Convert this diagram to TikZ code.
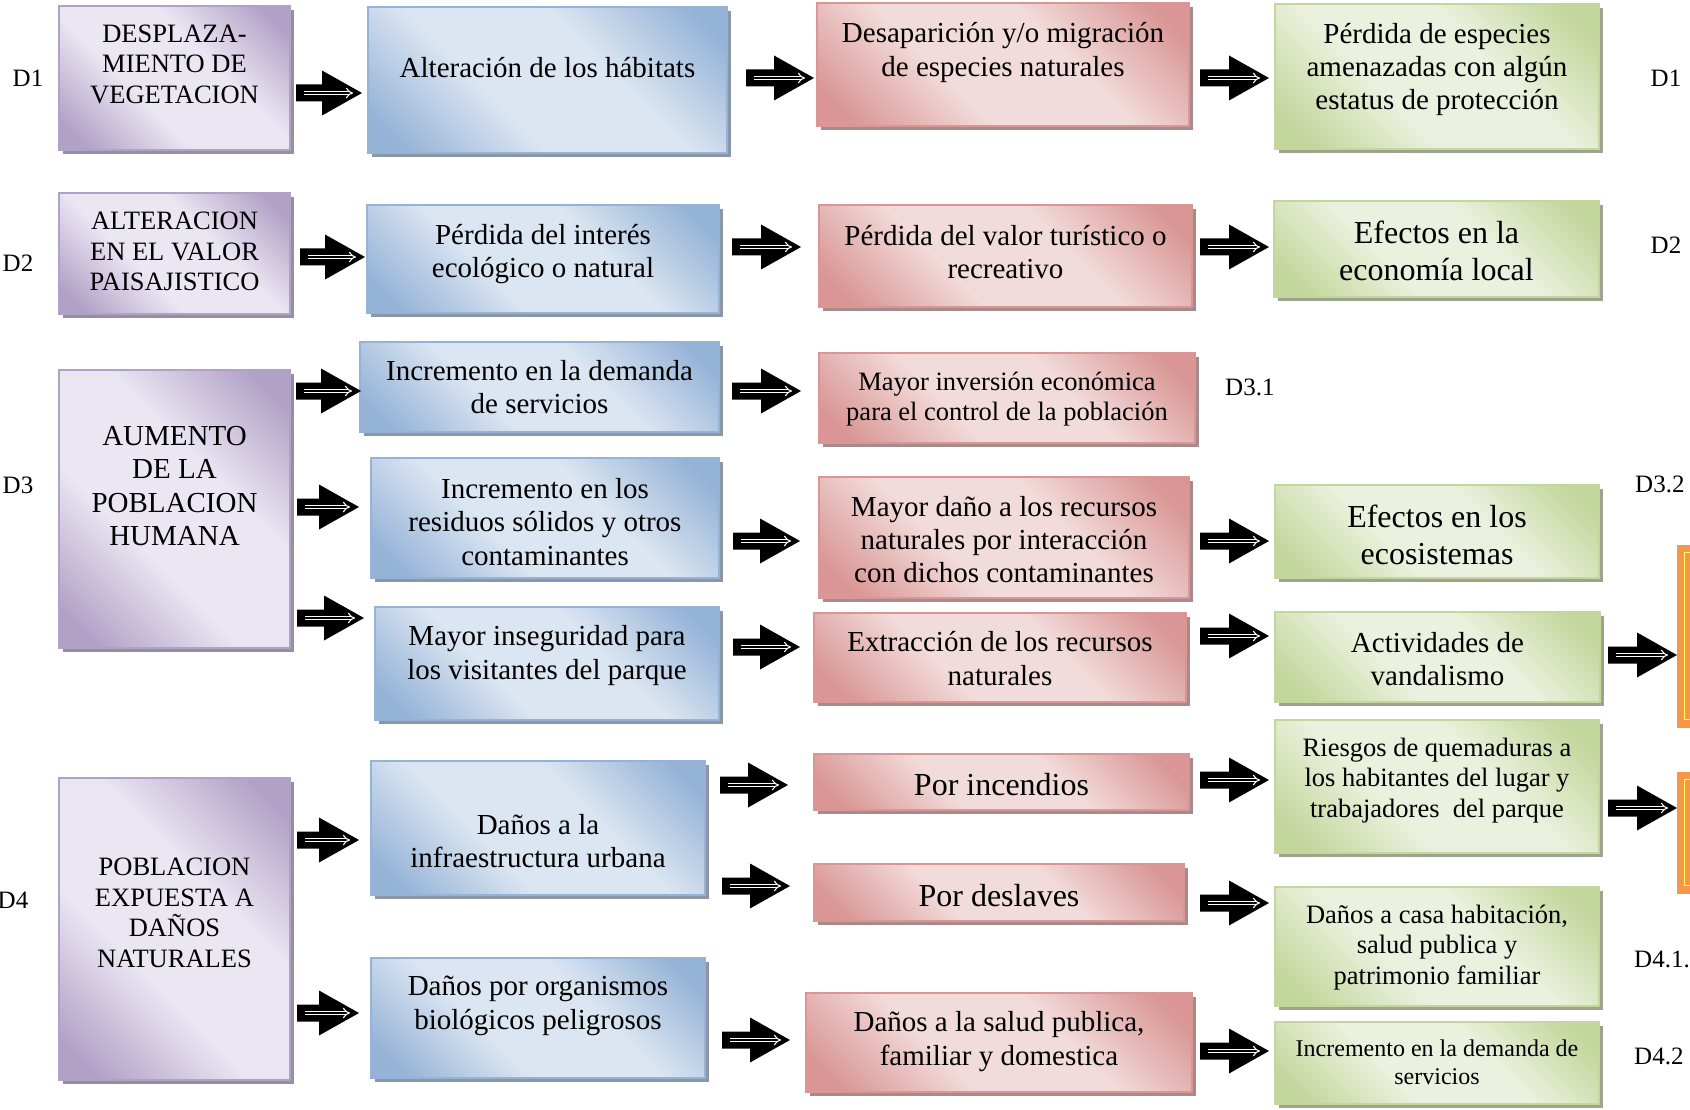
\documentclass[tikz,border=0pt]{standalone}
\usepackage{fontspec}
\setmainfont{Liberation Serif}
\usetikzlibrary{shadows,arrows.meta}

% box palettes: dark corner tone and light centre tone
\definecolor{pDk}{HTML}{B2A1C7}
\definecolor{pLt}{HTML}{EAE6F2}
\definecolor{bDk}{HTML}{95B3D7}
\definecolor{bLt}{HTML}{DCE6F2}
\definecolor{rDk}{HTML}{D99694}
\definecolor{rLt}{HTML}{F2DCDB}
\definecolor{gDk}{HTML}{C3D69B}
\definecolor{gLt}{HTML}{EBF1DE}
\definecolor{oOr}{HTML}{F79646}
\definecolor{oYl}{HTML}{FFFF66}

% diagonal fill: dark at two opposite corners, light band across the middle
\pgfdeclarehorizontalshading{shP}{100bp}{color(0bp)=(pDk); color(20bp)=(pDk); color(40bp)=(pLt); color(60bp)=(pLt); color(80bp)=(pDk); color(100bp)=(pDk)}
\pgfdeclarehorizontalshading{shB}{100bp}{color(0bp)=(bDk); color(20bp)=(bDk); color(40bp)=(bLt); color(60bp)=(bLt); color(80bp)=(bDk); color(100bp)=(bDk)}
\pgfdeclarehorizontalshading{shR}{100bp}{color(0bp)=(rDk); color(20bp)=(rDk); color(40bp)=(rLt); color(60bp)=(rLt); color(80bp)=(rDk); color(100bp)=(rDk)}
\pgfdeclarehorizontalshading{shG}{100bp}{color(0bp)=(gDk); color(20bp)=(gDk); color(40bp)=(gLt); color(60bp)=(gLt); color(80bp)=(gDk); color(100bp)=(gDk)}

\newcommand\fs[1]{\fontsize{#1}{\dimexpr #1pt*23/20\relax}\selectfont}

\tikzset{
  boxbase/.style={draw, line width=1.5pt, inner sep=0pt, shading angle=45},
  pbox/.style={boxbase, draw=pDk, shading=shP,
    drop shadow={shadow xshift=4pt, shadow yshift=-4pt, fill=pDk!55!gray!80!black, opacity=.8}},
  bbox/.style={boxbase, draw=bDk, shading=shB,
    drop shadow={shadow xshift=4pt, shadow yshift=-4pt, fill=bDk!55!gray!80!black, opacity=.8}},
  rbox/.style={boxbase, draw=rDk, shading=shR,
    drop shadow={shadow xshift=4pt, shadow yshift=-4pt, fill=rDk!55!gray!80!black, opacity=.8}},
  gbox/.style={boxbase, draw=gDk, shading=shG,
    drop shadow={shadow xshift=4pt, shadow yshift=-4pt, fill=gDk!55!gray!80!black, opacity=.8}},
  obox/.style={fill=oOr, draw=oOr, inner sep=0pt},
  txt/.style={align=center, inner sep=0pt, text=black},
  lbl/.style={inner sep=0pt, text=black, font=\fs{25}},
  wdbl/.style={-{Implies}, draw=white, double=black, double distance=2.4pt,
    line width=1.1pt, shorten <=8pt, shorten >=9pt},
}

% box with its text: name, style, x1, y1, x2, y2, text offset, font size, text
\newcommand\mybox[9]{%
  \node[#2, minimum width={(#5-#3)*1pt}, minimum height={(#6-#4)*1pt}] (#1) at ({(#3+#5)/2},{(#4+#6)/2}) {};
  \node[txt, font=\fs{#8}] (#1t) at ([yshift={-(#7)*1pt}]#1.center) {#9};
}

% black block arrow with a white double arrow inside: name, tail x, tip x, y
\newcommand\blk[4]{%
  \coordinate (#1) at (#2,#4);
  \coordinate (#1x) at (#3,#4);
  \fill[black] ([yshift=8.5pt]#1) -- ({#3-40},{#4-8.5}) -- ({#3-40},{#4-22.5}) -- (#1x)
    -- ({#3-40},{#4+22.5}) -- ({#3-40},{#4+8.5}) -- ([yshift=-8.5pt]#1) -- cycle;
  \draw[wdbl] (#1) -- (#1x);
}

\begin{document}
\begin{tikzpicture}[x=1pt, y=-1pt]
\useasboundingbox (0,0) rectangle (1690,1110);
\fill[white] (0,0) rectangle (1690,1110);
\clip (0,0) rectangle (1690,1110);

% causes
\mybox{P1}{pbox}{59}{6}{290}{150}{-14}{26.5}{DESPLAZA-\\MIENTO DE\\VEGETACION}
\mybox{P2}{pbox}{59}{193}{290}{314}{-2}{26.5}{ALTERACION\\EN EL VALOR\\PAISAJISTICO}
\mybox{P3}{pbox}{59}{370}{290}{648}{-23}{29}{AUMENTO\\DE LA\\POBLACION\\HUMANA}
\mybox{P4}{pbox}{59}{778}{290}{1080}{-16}{26.5}{POBLACION\\EXPUESTA A\\DAÑOS\\NATURALES}

% first effects
\mybox{B1}{bbox}{368}{7}{727}{153}{-12}{29}{Alteración de los hábitats}
\mybox{B2}{bbox}{367}{205}{719}{313}{-5}{29}{Pérdida del interés\\ecológico o natural}
\mybox{B3}{bbox}{360}{342}{719}{432}{0}{29}{Incremento en la demanda\\de servicios}
\mybox{B4}{bbox}{371}{458}{719}{578}{4}{29}{Incremento en los\\residuos sólidos y otros\\contaminantes}
\mybox{B5}{bbox}{375}{607}{719}{720}{-8}{29}{Mayor inseguridad para\\los visitantes del parque}
\mybox{B6}{bbox}{371}{761}{705}{895}{13}{29}{Daños a la\\infraestructura urbana}
\mybox{B7}{bbox}{371}{958}{705}{1078}{-12}{29}{Daños por organismos\\biológicos peligrosos}

% second effects
\mybox{R1}{rbox}{817}{3}{1189}{126}{-12}{29}{Desaparición y/o migración\\de especies naturales}
\mybox{R2}{rbox}{819}{205}{1192}{307}{-4}{29}{Pérdida del valor turístico o\\recreativo}
\mybox{R3}{rbox}{819}{353}{1195}{443}{1}{26.5}{Mayor inversión económica\\para el control de la población}
\mybox{R4}{rbox}{819}{477}{1189}{598}{2}{29}{Mayor daño a los recursos\\naturales por interacción\\con dichos contaminantes}
\mybox{R5}{rbox}{814}{613}{1186}{702}{1}{29}{Extracción de los recursos\\naturales}
\mybox{R6}{rbox}{814}{754}{1189}{810}{3}{32}{Por incendios}
\mybox{R7}{rbox}{814}{864}{1184}{921}{3}{32}{Por deslaves}
\mybox{R8}{rbox}{806}{993}{1192}{1092}{-1}{29}{Daños a la salud publica,\\familiar y domestica}

% final effects
\mybox{G1}{gbox}{1275}{4}{1599}{149}{-7}{29}{Pérdida de especies\\amenazadas con algún\\estatus de protección}
\mybox{G2}{gbox}{1274}{201}{1599}{297}{2}{32}{Efectos en la\\economía local}
\mybox{G3}{gbox}{1275}{485}{1599}{578}{3}{32}{Efectos en los\\ecosistemas}
\mybox{G4}{gbox}{1275}{612}{1600}{702}{2}{29}{Actividades de\\vandalismo}
\mybox{G5}{gbox}{1275}{720}{1599}{853}{-6}{26.5}{Riesgos de quemaduras a\\los habitantes del lugar y\\trabajadores\ \ del parque}
\mybox{G6}{gbox}{1275}{887}{1599}{1006}{1}{26.5}{Daños a casa habitación,\\salud publica y\\patrimonio familiar}
\mybox{G7}{gbox}{1275}{1022}{1599}{1104}{-1}{24}{Incremento en la demanda de\\servicios}

% orange boxes at the right edge
\node[obox, minimum width=30pt, minimum height=182pt] (O1) at (1692,636) {};
\node[obox, minimum width=30pt, minimum height=121pt] (O2) at (1692,832.5) {};
\draw[oYl, line width=1.2pt] ([xshift=8pt,yshift=-8pt]O1.north west) rectangle ([xshift=-8pt,yshift=8pt]O1.south east);
\draw[oYl, line width=1.2pt] ([xshift=8pt,yshift=-8pt]O2.north west) rectangle ([xshift=-8pt,yshift=8pt]O2.south east);

% block arrows
\blk{a1}{296}{362}{93}
\blk{a2}{746}{814}{78}
\blk{a3}{1200}{1269}{78}
\blk{a4}{300}{365}{257}
\blk{a5}{732}{801}{247}
\blk{a6}{1200}{1269}{247}
\blk{a7}{296}{361}{391}
\blk{a8}{297}{359}{507}
\blk{a9}{297}{364}{618}
\blk{a10}{732}{801}{391}
\blk{a11}{733}{800}{541}
\blk{a12}{733}{800}{647}
\blk{a13}{1200}{1269}{541}
\blk{a14}{1200}{1269}{636}
\blk{a15}{1608}{1677}{655}
\blk{a16}{297}{359}{840}
\blk{a17}{297}{359}{1013}
\blk{a18}{720}{788}{785}
\blk{a19}{722}{790}{886}
\blk{a20}{722}{790}{1040}
\blk{a21}{1200}{1269}{780}
\blk{a22}{1200}{1269}{903}
\blk{a23}{1200}{1269}{1051}
\blk{a24}{1608}{1677}{808}

% row labels
\node[lbl] (L1a) at (28,78) {D1};
\node[lbl] (L1b) at (1666,78) {D1};
\node[lbl] (L2a) at (18,263) {D2};
\node[lbl] (L2b) at (1666,245) {D2};
\node[lbl] (L3a) at (18,485) {D3};
\node[lbl, anchor=west] (L31) at (1225,387) {D3.1};
\node[lbl, anchor=west] (L32) at (1635,484) {D3.2};
\node[lbl] (L4a) at (13,900) {D4};
\node[lbl, anchor=west] (L41) at (1634,959) {D4.1.};
\node[lbl, anchor=west] (L42) at (1634,1056) {D4.2};
\end{tikzpicture}
\end{document}
